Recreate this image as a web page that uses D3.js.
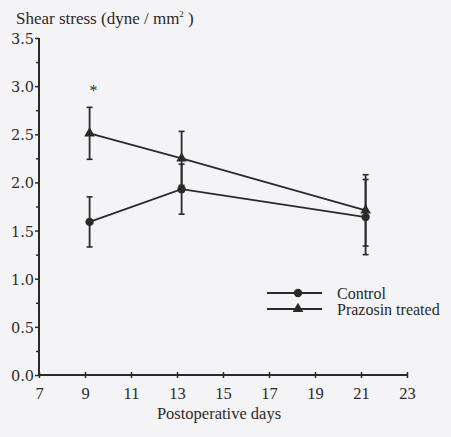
<!DOCTYPE html>
<html>
<head>
<meta charset="utf-8">
<script src="https://cdn.jsdelivr.net/npm/d3@7"></script>
<style>
  html, body { margin: 0; padding: 0; background: #f4f3f6; }
  svg { display: block; }
</style>
</head>
<body>
<svg id="chart" width="451" height="437"></svg>
<script>
// Shear stress over postoperative days, mean ± SE
const days = [9.2, 13.2, 21.2];
const controlMean = [1.59, 1.93, 1.64];
const controlErr = [0.26, 0.26, 0.39];
const prazosinMean = [2.51, 2.25, 1.71];
const prazosinErr = [0.27, 0.28, 0.37];
const xTicks = [7, 9, 11, 13, 15, 17, 19, 21, 23];
const yTicks = [0.0, 0.5, 1.0, 1.5, 2.0, 2.5, 3.0, 3.5];
const yMinorTicks = [0.25, 0.75, 1.25, 1.75, 2.25, 2.75, 3.25];
const seriesNames = ["Control", "Prazosin treated"];
const significantDay = 9.2;

const svg = d3.select("#chart");
const ink = "#2a2a2a";
const serif = "'Liberation Serif', 'Times New Roman', Times, serif";
const tickFont = "'DejaVu Serif', serif";

const x = d3.scaleLinear().domain([7, 23]).range([39, 407]);
const y = d3.scaleLinear().domain([0, 3.5]).range([375, 38]);

// y axis
const yAxis = svg.append("g").attr("transform", `translate(${x(7)},0)`)
  .call(d3.axisLeft(y).tickValues(yTicks).tickFormat(d3.format(".1f")).tickSize(4).tickPadding(1));
yAxis.append("g").call(d3.axisLeft(y).tickValues(yMinorTicks).tickFormat("").tickSize(3));
yAxis.selectAll("path.domain").remove();
yAxis.append("line").attr("x1", 0).attr("x2", 0).attr("y1", y(3.5)).attr("y2", y(0))
  .attr("stroke", ink).attr("stroke-width", 2);
yAxis.selectAll("line").attr("stroke", ink);
yAxis.selectAll(".tick line").attr("stroke-width", 1.5);
yAxis.selectAll("text").attr("font-family", tickFont).attr("font-size", 14.5)
  .attr("dy", "0.38em").attr("fill", ink);

// x axis
const xAxis = svg.append("g").attr("transform", `translate(0,${y(0)})`)
  .call(d3.axisBottom(x).tickValues(xTicks).tickSize(4).tickPadding(8));
xAxis.selectAll("path.domain").remove();
xAxis.append("line").attr("x1", x(7)).attr("x2", x(23)).attr("y1", 0).attr("y2", 0)
  .attr("stroke", ink).attr("stroke-width", 2);
xAxis.selectAll(".tick line").attr("stroke", ink).attr("stroke-width", 1.5)
  .attr("y1", -3).attr("y2", 3);
xAxis.selectAll("text").attr("font-family", serif).attr("font-size", 16.5).attr("fill", ink);

// axis titles
const yTitle = svg.append("text").attr("x", 16).attr("y", 24)
  .attr("font-family", serif).attr("font-size", 17).attr("fill", ink);
yTitle.append("tspan").text("Shear stress (dyne / mm");
yTitle.append("tspan").attr("dy", -7).attr("font-size", 9).text("2");
yTitle.append("tspan").attr("dy", 7).text(" )");

svg.append("text").attr("x", 219).attr("y", 419).attr("text-anchor", "middle")
  .attr("font-family", serif).attr("font-size", 16.5).attr("fill", ink).text("Postoperative days");

// series
const series = [
  { name: seriesNames[0], mean: controlMean, err: controlErr, shape: d3.symbolCircle, size: 55 },
  { name: seriesNames[1], mean: prazosinMean, err: prazosinErr, shape: d3.symbolTriangle, size: 50 }
];

const line = d3.line().x(d => x(d[0])).y(d => y(d[1]));

series.forEach(s => {
  const pts = days.map((d, i) => [d, s.mean[i], s.err[i]]);
  svg.append("path").datum(pts).attr("d", line)
    .attr("fill", "none").attr("stroke", ink).attr("stroke-width", 1.8);
  const g = svg.append("g");
  pts.forEach(p => {
    const cx = x(p[0]);
    g.append("line").attr("x1", cx).attr("x2", cx)
      .attr("y1", y(p[1] + p[2])).attr("y2", y(p[1] - p[2]))
      .attr("stroke", ink).attr("stroke-width", 1.8);
    [p[1] + p[2], p[1] - p[2]].forEach(v => {
      g.append("line").attr("x1", cx - 3).attr("x2", cx + 3)
        .attr("y1", y(v)).attr("y2", y(v)).attr("stroke", ink).attr("stroke-width", 1.6);
    });
    g.append("path").attr("d", d3.symbol().type(s.shape).size(s.size)())
      .attr("transform", `translate(${cx},${y(p[1])})`).attr("fill", ink);
  });
});

// significance marker
svg.append("text").attr("x", x(significantDay) + 4).attr("y", 96).attr("text-anchor", "middle")
  .attr("font-family", serif).attr("font-size", 16).attr("fill", ink).text("*");

// legend
const legend = svg.append("g");
series.forEach((s, i) => {
  const ly = 293 + i * 16;
  legend.append("line").attr("x1", 267).attr("x2", 322).attr("y1", ly).attr("y2", ly)
    .attr("stroke", ink).attr("stroke-width", 1.8);
  legend.append("path").attr("d", d3.symbol().type(s.shape).size(s.size)())
    .attr("transform", `translate(298,${ly})`).attr("fill", ink);
  legend.append("text").attr("x", 337).attr("y", ly + 6)
    .attr("font-family", serif).attr("font-size", 16).attr("fill", ink).text(s.name);
});
</script>
</body>
</html>
